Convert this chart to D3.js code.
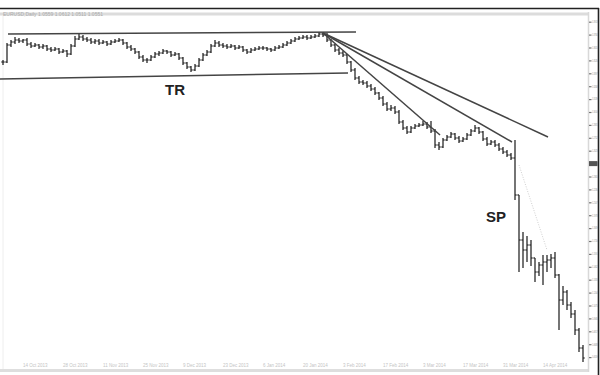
<!DOCTYPE html>
<html><head><meta charset="utf-8">
<script src="https://cdn.jsdelivr.net/npm/d3@7"></script>
<style>html,body{margin:0;padding:0;background:#fff;}svg{display:block;}</style>
</head><body>
<svg id="chart" width="600" height="375"></svg>
<script>
// ---- data (bar index, prices) ----
const firstOpen = 1.351;
const closes = [
1.351,1.368,1.371,1.373,1.372,1.373,1.369,1.367,1.368,1.366,
1.367,1.364,1.363,1.364,1.361,1.362,1.359,1.367,1.374,1.376,
1.374,1.373,1.371,1.372,1.370,1.371,1.369,1.371,1.372,1.373,
1.370,1.366,1.364,1.361,1.356,1.353,1.353,1.356,1.359,1.360,
1.362,1.361,1.358,1.359,1.355,1.350,1.346,1.343,1.347,1.353,
1.358,1.361,1.367,1.370,1.368,1.367,1.366,1.367,1.365,1.366,
1.363,1.361,1.363,1.364,1.365,1.365,1.364,1.363,1.365,1.366,
1.368,1.370,1.372,1.374,1.375,1.376,1.375,1.376,1.377,1.379,
1.378,1.373,1.368,1.363,1.360,1.358,1.351,1.343,1.335,1.331,
1.330,1.327,1.324,1.320,1.315,1.309,1.304,1.305,1.301,1.291,
1.285,1.281,1.285,1.287,1.288,1.289,1.286,1.282,1.268,1.266,
1.273,1.276,1.279,1.275,1.272,1.274,1.278,1.282,1.285,1.281,
1.274,1.269,1.271,1.268,1.264,1.261,1.258,1.255,1.218,1.173,
1.163,1.168,1.155,1.141,1.148,1.151,1.153,1.155,1.138,1.113,
1.121,1.108,1.099,1.083,1.065,1.055];
const highs = [
1.353,1.370,1.373,1.376,1.375,1.374,1.375,1.371,1.370,1.369,
1.369,1.368,1.366,1.366,1.365,1.364,1.363,1.369,1.377,1.379,
1.378,1.376,1.375,1.374,1.374,1.373,1.372,1.373,1.374,1.375,
1.374,1.371,1.368,1.365,1.362,1.358,1.355,1.358,1.361,1.362,
1.364,1.363,1.362,1.361,1.360,1.356,1.351,1.347,1.349,1.355,
1.360,1.363,1.369,1.373,1.372,1.370,1.369,1.369,1.368,1.368,
1.367,1.364,1.365,1.366,1.367,1.367,1.366,1.365,1.367,1.368,
1.370,1.372,1.374,1.376,1.377,1.378,1.378,1.378,1.379,1.381,
1.381,1.380,1.374,1.369,1.365,1.362,1.359,1.352,1.345,1.337,
1.333,1.332,1.329,1.326,1.321,1.317,1.311,1.308,1.307,1.303,
1.293,1.287,1.287,1.289,1.290,1.292,1.291,1.292,1.284,1.271,
1.275,1.278,1.281,1.280,1.277,1.276,1.280,1.284,1.288,1.286,
1.282,1.276,1.273,1.273,1.270,1.266,1.263,1.260,1.273,1.218,
1.181,1.177,1.173,1.155,1.151,1.158,1.158,1.159,1.161,1.139,
1.127,1.123,1.111,1.103,1.085,1.068];
const lows = [
1.348,1.350,1.366,1.369,1.370,1.370,1.367,1.365,1.366,1.364,
1.364,1.362,1.361,1.362,1.359,1.360,1.356,1.358,1.366,1.373,
1.372,1.371,1.369,1.369,1.368,1.369,1.367,1.368,1.370,1.371,
1.368,1.364,1.362,1.359,1.354,1.351,1.350,1.352,1.355,1.357,
1.359,1.359,1.356,1.357,1.353,1.348,1.344,1.341,1.342,1.346,
1.352,1.357,1.360,1.366,1.366,1.365,1.364,1.365,1.363,1.364,
1.361,1.359,1.360,1.362,1.363,1.363,1.362,1.361,1.362,1.364,
1.365,1.367,1.369,1.371,1.373,1.374,1.373,1.374,1.375,1.376,
1.376,1.371,1.366,1.361,1.358,1.356,1.349,1.341,1.333,1.329,
1.328,1.325,1.322,1.318,1.313,1.307,1.302,1.302,1.299,1.289,
1.283,1.279,1.280,1.284,1.286,1.287,1.284,1.280,1.265,1.263,
1.265,1.272,1.275,1.273,1.270,1.271,1.273,1.277,1.281,1.279,
1.272,1.267,1.268,1.266,1.262,1.259,1.256,1.253,1.213,1.141,
1.145,1.151,1.147,1.131,1.137,1.128,1.141,1.145,1.135,1.083,
1.108,1.103,1.095,1.078,1.061,1.051];

// trendlines: [barIndex, price] endpoints
const trendLines = [
  [[1.25, 1.379], [88.25, 1.381]],
  [[-0.75, 1.334], [86.25, 1.340]],
  [[80, 1.380], [109.25, 1.278]],
  [[80, 1.380], [127.25, 1.271]],
  [[80, 1.380], [136.25, 1.276]]
];
const faintLine = [[129, 1.248], [136, 1.163]];
const annotations = [
  {text: "TR", i: 43, p: 1.318},
  {text: "SP", i: 123.25, p: 1.191}
];
const priceTicks = [1.3913,1.3784,1.3655,1.3526,1.3397,1.3268,1.3139,1.3010,1.2881,
  1.2752,1.2623,1.2494,1.2365,1.2236,1.2107,1.1978,1.1849,1.1720,1.1591,1.1462,
  1.1333,1.1204,1.1075,1.0946,1.0817,1.0688,1.0559];
const markerPrice = 1.2494;
const dateTicks = [5, 15, 25, 35, 45, 55, 65, 75, 85, 95, 105, 115, 125, 135];
const dateLabels = ["14 Oct 2013","28 Oct 2013","11 Nov 2013","25 Nov 2013","9 Dec 2013",
  "23 Dec 2013","6 Jan 2014","20 Jan 2014","3 Feb 2014","17 Feb 2014","3 Mar 2014",
  "17 Mar 2014","31 Mar 2014","14 Apr 2014"];
const titleText = "EURUSD,Daily  1.0559 1.0612 1.0511 1.0551";

// ---- drawing ----
const svg = d3.select("#chart");
const N = closes.length;
const x = d3.scaleLinear().domain([0, N - 1]).range([3, 583]);
const y = d3.scaleLinear().domain([1.045, 1.400]).range([368, 13]);
const opens = closes.map((c, i) => i === 0 ? firstOpen : closes[i - 1]);
const FONT = "Liberation Sans, Arial, sans-serif";

svg.append("rect").attr("width", 600).attr("height", 375).attr("fill", "#fff");

// title band
svg.append("rect").attr("x", 0).attr("y", 12.5).attr("width", 588).attr("height", 3).attr("fill", "#dcdcdc");
svg.append("text").attr("x", 3).attr("y", 15.5).attr("font-family", FONT)
  .attr("font-size", 5).attr("fill", "#aaa").text(titleText);

// bottom band + dates
svg.append("rect").attr("x", 0).attr("y", 369).attr("width", 588).attr("height", 3).attr("fill", "#dedede");
svg.append("line").attr("x1", 3).attr("x2", 3).attr("y1", 16).attr("y2", 369).attr("stroke", "#eee");
svg.append("g").selectAll("text").data(dateTicks).join("text")
  .attr("x", d => x(d)).attr("y", 367).attr("font-family", FONT)
  .attr("font-size", 4.5).attr("fill", "#c4c4c4").text((d, k) => dateLabels[k]);

// right axis
svg.append("line").attr("x1", 588.5).attr("x2", 588.5).attr("y1", 12).attr("y2", 372).attr("stroke", "#d8d8d8").attr("stroke-width", 1.5);
const axis = d3.axisRight(y).tickValues(priceTicks).tickSize(2.5).tickPadding(0.5).tickFormat(d3.format(".4f"));
const ag = svg.append("g").attr("transform", "translate(589,0)").call(axis);
ag.select(".domain").remove();
ag.selectAll(".tick line").attr("stroke", "#777").attr("stroke-width", 1.2);
ag.selectAll(".tick text").attr("font-size", 2.6).attr("fill", "#888").attr("x", 3)
  .attr("font-family", FONT).attr("textLength", 5.5).attr("lengthAdjust", "spacingAndGlyphs");
svg.append("rect").attr("x", 589).attr("y", y(markerPrice) - 2.5).attr("width", 8.5).attr("height", 5).attr("fill", "#555");

// faint helper line
svg.append("line").attr("x1", x(faintLine[0][0])).attr("y1", y(faintLine[0][1]))
  .attr("x2", x(faintLine[1][0])).attr("y2", y(faintLine[1][1]))
  .attr("stroke", "#d0d0d0").attr("stroke-width", 1).attr("stroke-dasharray", "1,1.5");

// OHLC bars
const bars = svg.append("g").attr("stroke", "#3a3a3a").attr("stroke-width", 1.4);
bars.selectAll("line.hl").data(closes).join("line").attr("class", "hl")
  .attr("x1", (d, i) => x(i)).attr("x2", (d, i) => x(i))
  .attr("y1", (d, i) => y(highs[i])).attr("y2", (d, i) => y(lows[i]));
bars.selectAll("line.op").data(opens).join("line").attr("class", "op")
  .attr("x1", (d, i) => x(i) - 1.6).attr("x2", (d, i) => x(i))
  .attr("y1", d => y(d)).attr("y2", d => y(d));
bars.selectAll("line.cl").data(closes).join("line").attr("class", "cl")
  .attr("x1", (d, i) => x(i)).attr("x2", (d, i) => x(i) + 1.6)
  .attr("y1", d => y(d)).attr("y2", d => y(d));

// trend lines
svg.append("g").selectAll("line").data(trendLines).join("line")
  .attr("x1", d => x(d[0][0])).attr("y1", d => y(d[0][1]))
  .attr("x2", d => x(d[1][0])).attr("y2", d => y(d[1][1]))
  .attr("stroke", "#444").attr("stroke-width", 1.5);

// annotations
svg.append("g").selectAll("text").data(annotations).join("text")
  .attr("x", d => x(d.i)).attr("y", d => y(d.p)).attr("text-anchor", "middle")
  .attr("font-family", FONT).attr("font-weight", "bold")
  .attr("font-size", 15).attr("fill", "#222").text(d => d.text);

// frame
svg.append("line").attr("x1", 0).attr("x2", 599).attr("y1", 8.5).attr("y2", 8.5).attr("stroke", "#222").attr("stroke-width", 1.6);
svg.append("line").attr("x1", 598.5).attr("x2", 598.5).attr("y1", 8).attr("y2", 375).attr("stroke", "#222").attr("stroke-width", 1.6);
</script>
</body></html>
